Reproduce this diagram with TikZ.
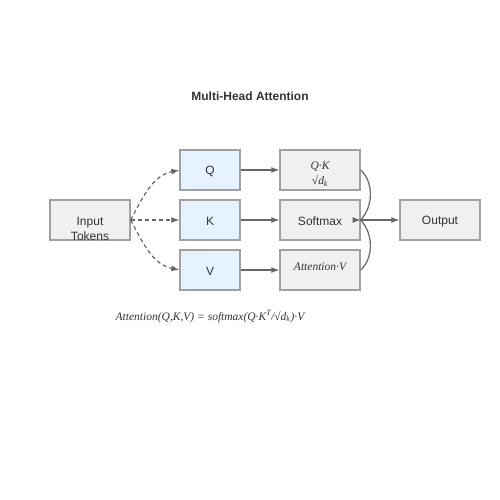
\documentclass[tikz,border=0pt]{standalone}
\usepackage{fontspec}
\setmainfont{Liberation Sans}
\newfontfamily\serifit{Liberation Serif}
\usetikzlibrary{arrows.meta}
\definecolor{bluefill}{HTML}{E6F2FF}
\definecolor{grayfill}{HTML}{F0F0F0}
\definecolor{boxline}{HTML}{A0A0A0}
\definecolor{conn}{HTML}{666666}
\definecolor{titlec}{HTML}{333333}
\tikzset{
  box/.style={draw=boxline, line width=1.3pt, fill=grayfill, minimum width=80pt, minimum height=40pt, inner sep=0pt},
  qkv/.style={box, fill=bluefill, minimum width=60pt},
  lbl/.style={font=\fontsize{12pt}{15pt}\selectfont, text=titlec, align=center, inner sep=0pt},
  mlbl/.style={font=\fontsize{11.5pt}{15pt}\selectfont\serifit\itshape, text=titlec, align=center, inner sep=0pt},
  arr/.style={draw=conn, line width=1.2pt, -{Latex[length=8pt,width=6pt]}},
  plain/.style={draw=conn, line width=1.2pt},
  dsh/.style={arr, dash pattern=on 4pt off 3pt},
}
\begin{document}
\begin{tikzpicture}[x=1pt,y=-1pt]
\path[use as bounding box] (0,0) rectangle (500,500);
\node[font=\bfseries\fontsize{12pt}{14pt}\selectfont, text=titlec] (title) at (250,96) {Multi-Head Attention};
% boxes
\node[box] (in) at (90,220) {};
\node[lbl] (intext) at (90,229) {Input\\Tokens};
\node[qkv] (q) at (210,170) {};
\node[lbl] (qt) at (210,171.5) {Q};
\node[qkv] (k) at (210,220) {};
\node[lbl] (kt) at (210,221.5) {K};
\node[qkv] (v) at (210,270) {};
\node[lbl] (vt) at (210,271.5) {V};
\node[box] (qk) at (320,170) {};
\node[mlbl] (qkt) at (320,174) {Q·K\\√{\itshape d}\textsubscript{k}};
\node[box] (sm) at (320,220) {};
\node[lbl] (smt) at (320,221.5) {Softmax};
\node[box] (av) at (320,270) {};
\node[mlbl] (avt) at (320,266.5) {Attention·V};
\node[box] (out) at (440,220) {};
\node[lbl] (outt) at (440,221.5) {Output};
% connectors
\draw[dsh] (in.east) to[out=62,in=192] (q.west);
\draw[dsh] (in.east) -- (k.west);
\draw[dsh] (in.east) to[out=-62,in=168] (v.west);
\draw[arr] (q.east) -- (qk.west);
\draw[arr] (k.east) -- (sm.west);
\draw[arr] (v.east) -- (av.west);
\draw[plain] (qk.east) .. controls +(13,12) and +(13,-14) .. (sm.east);
\draw[plain] (sm.east) .. controls +(13,14) and +(13,-12) .. (av.east);
\draw[arr] ([xshift=-8pt]sm.east) -- (sm.east);
\draw[arr] (sm.east) -- (out.west);
% formula
\node[font=\fontsize{11.5pt}{14pt}\selectfont\serifit\itshape, text=titlec] (formula) at (210,316.5) {Attention(Q,K,V) = softmax(Q·K\textsuperscript{T}/√{d}\textsubscript{k})·V};
\end{tikzpicture}
\end{document}
